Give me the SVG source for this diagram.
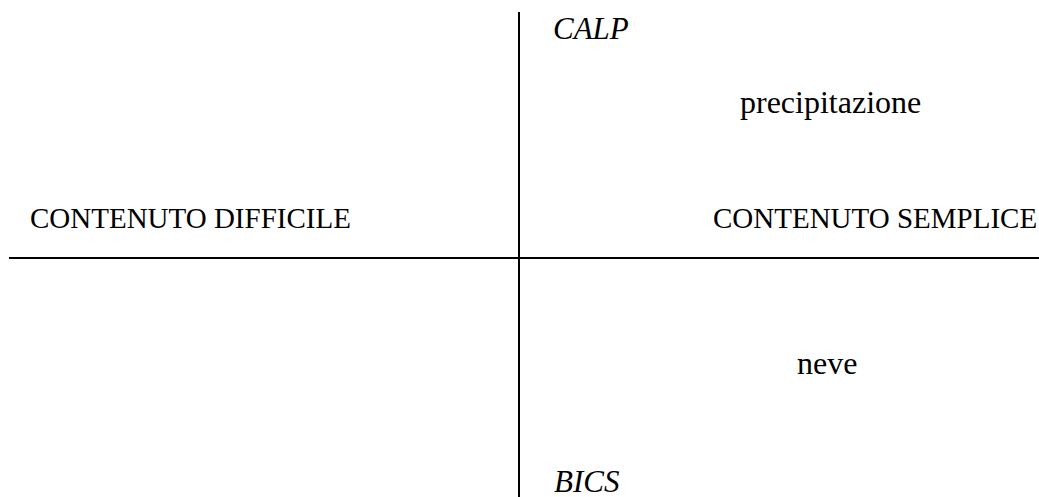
<svg xmlns="http://www.w3.org/2000/svg" width="1039" height="497" viewBox="0 0 1039 497">
<style>
text{font-family:"Liberation Serif","Times New Roman",serif;font-size:29px;fill:#000}
.it{font-style:italic;font-size:31px}
.w{font-size:32px}
.ax{stroke:#000;stroke-width:2;fill:none}
</style>
<rect width="1039" height="497" fill="#fff"/>
<g id="axes">
<line class="ax" x1="519" y1="12" x2="519" y2="497"/>
<line class="ax" x1="9" y1="258" x2="1039" y2="258"/>
</g>
<g id="calp"><text class="it" x="553" y="39">CALP</text></g>
<g id="bics"><text class="it" x="554" y="492">BICS</text></g>
<g id="difficile"><text x="30" y="228">CONTENUTO DIFFICILE</text></g>
<g id="semplice"><text x="713" y="228">CONTENUTO SEMPLICE</text></g>
<g id="precipitazione"><text class="w" x="740" y="113">precipitazione</text></g>
<g id="neve"><text class="w" x="797" y="374">neve</text></g>
</svg>
